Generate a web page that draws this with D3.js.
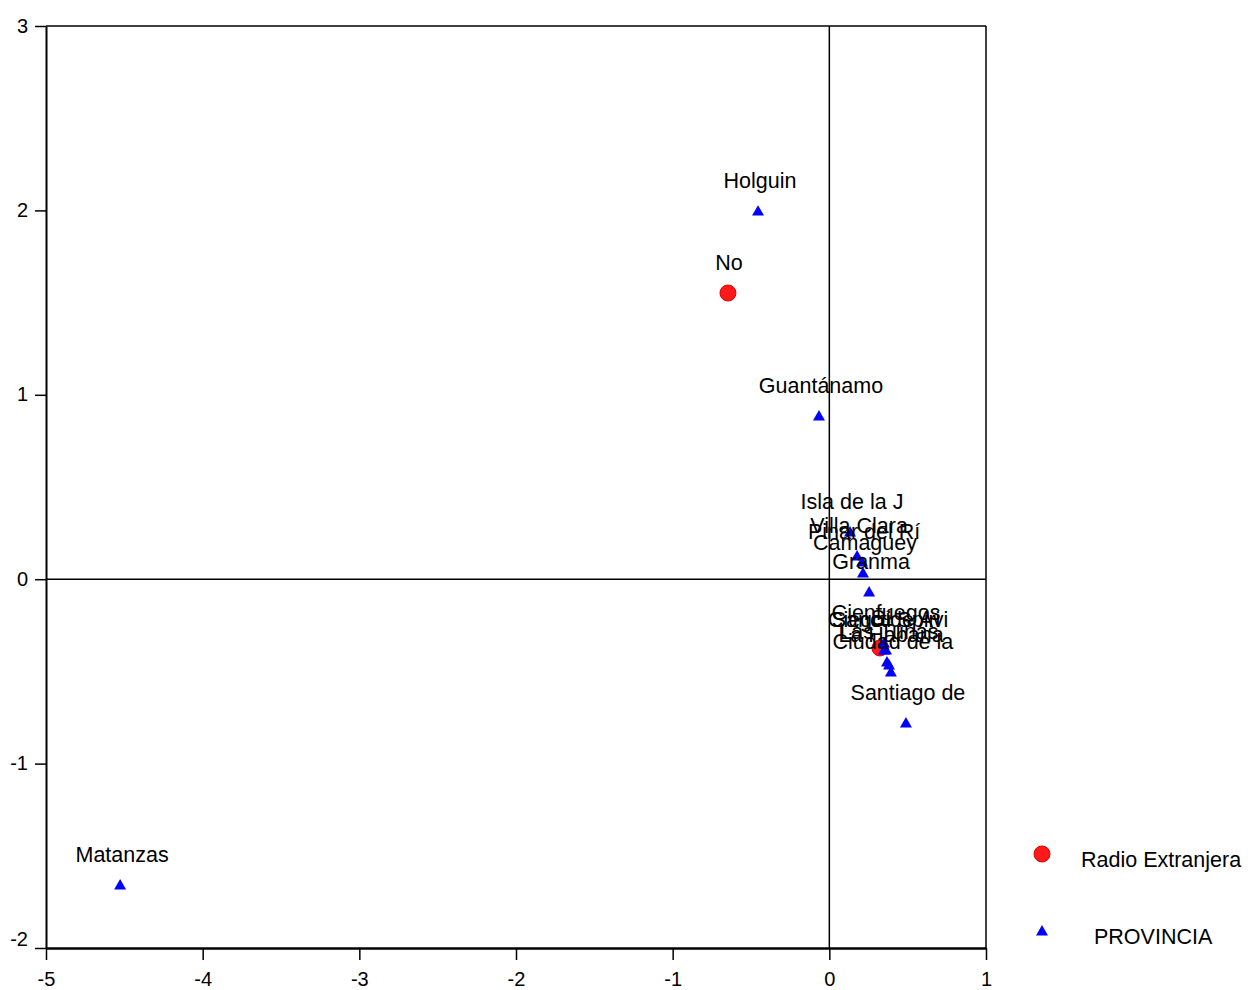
<!DOCTYPE html>
<html>
<head>
<meta charset="utf-8">
<script src="https://cdn.jsdelivr.net/npm/d3@7"></script>
<style>
  body { margin: 0; background: #fff; }
  svg { display: block; font-family: "Liberation Sans", Arial, sans-serif; }
</style>
</head>
<body>
<svg id="chart" width="1248" height="990"></svg>
<script>
// Category points: Radio Extranjera
const radioNames = ["No", "Sí"];
const radioX = [-0.647, 0.323];
const radioY = [1.552, -0.373];

// Category points: PROVINCIA
const provNames = ["Holguin", "Guantánamo", "Isla de la J", "Villa Clara", "Pinar del Rí",
  "Camaguey", "Granma", "Cienfuegos", "Sancti Spiri", "Ciego de Avi", "Las Tunas",
  "La Habana", "Ciudad de la", "Santiago de", "Matanzas"];
const provX = [-0.455, -0.066, 0.132, 0.177, 0.209, 0.215, 0.254, 0.349, 0.349, 0.362,
  0.368, 0.381, 0.393, 0.489, -4.527];
const provY = [1.996, 0.885, 0.256, 0.126, 0.093, 0.034, -0.069, -0.346, -0.384, -0.384,
  -0.449, -0.465, -0.503, -0.780, -1.658];

const xTicks = [-5, -4, -3, -2, -1, 0, 1];
const yTicks = [-2, -1, 0, 1, 2, 3];
const legendLabels = ["Radio Extranjera", "PROVINCIA"];

const svg = d3.select("#chart");
const x = d3.scaleLinear().domain([-5, 1]).range([46, 986]);
const y = d3.scaleLinear().domain([-2, 3]).range([948, 26]);
const fmt = d => String(d);

// frame
const g = svg.append("g");
g.append("line").attr("x1", x(-5)).attr("x2", x(1)).attr("y1", y(3)).attr("y2", y(3))
  .attr("stroke", "#000").attr("stroke-width", 1.5);
g.append("line").attr("x1", x(1)).attr("x2", x(1)).attr("y1", y(3)).attr("y2", y(-2))
  .attr("stroke", "#000").attr("stroke-width", 1.5);
// zero lines
g.append("line").attr("x1", x(-5)).attr("x2", x(1)).attr("y1", y(0)).attr("y2", y(0))
  .attr("stroke", "#000").attr("stroke-width", 1.5);
g.append("line").attr("x1", x(0)).attr("x2", x(0)).attr("y1", y(3)).attr("y2", y(-2))
  .attr("stroke", "#000").attr("stroke-width", 1.5);

// y axis
const yAxis = svg.append("g").attr("transform", `translate(${x(-5)},0)`)
  .call(d3.axisLeft(y).tickValues(yTicks).tickSize(11).tickSizeOuter(0).tickFormat(fmt));
yAxis.select(".domain").attr("stroke-width", 2);
yAxis.selectAll(".tick line").attr("stroke-width", 1.5);
yAxis.selectAll(".tick text").attr("font-size", 20).attr("x", -18)
  .attr("font-family", "Liberation Sans, Arial, sans-serif")
  .attr("dy", d => d === -2 ? "-0.15em" : "0.3em");

// x axis
const xAxis = svg.append("g").attr("transform", `translate(0,${y(-2)})`)
  .call(d3.axisBottom(x).tickValues(xTicks).tickSize(12).tickSizeOuter(0).tickFormat(fmt));
xAxis.select(".domain").attr("stroke-width", 2.5);
xAxis.selectAll(".tick line").attr("stroke-width", 1.5);
xAxis.selectAll(".tick text").attr("font-size", 20).attr("y", 24)
  .attr("font-family", "Liberation Sans, Arial, sans-serif");

// points
const tri = d3.symbol().type(d3.symbolTriangle).size(62);
const provData = provNames.map((n, i) => ({ n, x: provX[i], y: provY[i] }));
const radioData = radioNames.map((n, i) => ({ n, x: radioX[i], y: radioY[i] }));

svg.append("g").selectAll("circle").data(radioData).join("circle")
  .attr("cx", d => x(d.x)).attr("cy", d => y(d.y)).attr("r", 8)
  .attr("fill", "#ff1a1a").attr("stroke", "#e00000").attr("stroke-width", 1);

svg.append("g").selectAll("path").data(provData).join("path")
  .attr("d", tri).attr("transform", d => `translate(${x(d.x)},${y(d.y) + 1})`)
  .attr("fill", "#0000ff");

// labels
const labels = svg.append("g").attr("font-size", 21.5).attr("fill", "#000").attr("text-anchor", "middle");
labels.selectAll("text.p").data(provData).join("text").attr("class", "p")
  .attr("x", d => x(d.x) + 2).attr("y", d => y(d.y) - 23).text(d => d.n);
labels.selectAll("text.r").data(radioData).join("text").attr("class", "r")
  .attr("x", d => x(d.x) + 1).attr("y", d => y(d.y) - 23).text(d => d.n);

// legend
const lg = svg.append("g").attr("font-size", 21.5);
lg.append("circle").attr("cx", 1042).attr("cy", 854).attr("r", 8)
  .attr("fill", "#ff1a1a").attr("stroke", "#e00000");
lg.append("text").attr("x", 1081).attr("y", 867).text(legendLabels[0]);
lg.append("path").attr("d", tri).attr("transform", "translate(1042,932)").attr("fill", "#0000ff");
lg.append("text").attr("x", 1094).attr("y", 944).text(legendLabels[1]);
</script>
</body>
</html>
